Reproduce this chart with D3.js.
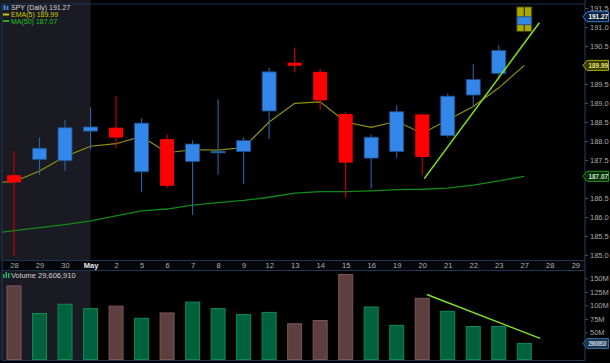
<!DOCTYPE html>
<html><head><meta charset="utf-8">
<script src="https://cdn.jsdelivr.net/npm/d3@7"></script>
<style>html,body{margin:0;padding:0;background:#000;overflow:hidden}</style>
</head><body><svg id="c" width="610" height="363"></svg>
<script>
// ---- data ----
const dates = ["28","29","30","May","2","5","6","7","8","9","12","13","14","15","16","19","20","21","22","23","27","28","29"];
const openP  = [187.10,187.51,187.48,188.26,188.35,187.19,188.05,187.46,187.71,187.72,188.79,190.06,189.82,188.71,187.55,187.72,188.70,188.14,189.21,189.78,191.06];
const highP  = [187.74,188.09,188.55,188.89,189.18,188.60,188.18,188.02,189.10,188.09,189.93,190.46,189.90,188.76,188.17,188.94,188.72,189.25,190.02,190.52,191.53];
const lowP   = [184.98,187.11,187.21,187.77,187.81,186.65,186.76,186.05,187.11,186.87,188.05,189.80,188.82,186.51,186.75,187.56,187.10,188.09,188.91,189.62,190.88];
const closeP = [186.91,187.81,188.35,188.37,188.09,188.47,186.82,187.92,187.73,188.01,189.82,189.98,189.07,187.43,188.10,188.77,187.58,189.18,189.62,190.38,191.27];
const volumeM = [136,85,102,94,98.5,76,86,106,94,83,87,66,72,157,97,63,113,89,61,61,29.6];
const emaLead = 186.90; // prior session (off-screen)
const ema5 = [186.93,187.21,187.59,187.86,187.93,188.12,187.69,187.77,187.76,187.83,188.50,188.99,189.03,188.50,188.36,188.52,188.20,188.55,188.91,189.40,189.99];
const maLead = 185.56;
const ma50 = [185.64,185.72,185.80,185.90,186.03,186.16,186.21,186.31,186.38,186.44,186.52,186.63,186.67,186.67,186.69,186.72,186.73,186.76,186.84,186.95,187.07];
// 190.0, 187.0 and 25M sit under the value tags, so they are not shown
const priceTicks = [185,185.5,186,186.5,187.5,188,188.5,189,189.5,190.5,191,191.5];
const volTicks = [50,75,100,125,150];
const priceTrend = [[16.08,187.01],[20.59,191.11]];
const volTrend = [[16.18,120],[20.62,39]];
const lastClose = 191.27, lastEma = 189.99, lastMa = 187.07, lastVolM = 29.6, lastVol = "29606910";

// ---- layout ----
const W=610;
const L=2,R=585,T=4,MB=260.5,DB=270.5,VB=360.5;
const svg=d3.select("#c");
const FONT="'Liberation Sans', Arial, sans-serif";
const x=d3.scaleLinear().domain([0,22]).range([14,575.3]);
const y=d3.scaleLinear().domain([185,191.5]).range([255,8]);
const yv=d3.scaleLinear().domain([0,150]).range([359.5,278.3]);
const frame="#1d3452";

svg.append("rect").attr("width",W).attr("height",363).attr("fill","#000");
svg.append("rect").attr("x",0).attr("y",0).attr("width",x(3)).attr("height",VB).attr("fill","#1a1b22");
svg.append("rect").attr("x",0).attr("y",MB).attr("width",R).attr("height",DB-MB).attr("fill","#03060a");

const defs=svg.append("defs");
defs.append("clipPath").attr("id","cp").append("rect").attr("x",L).attr("y",T).attr("width",R-L).attr("height",MB-T);
defs.append("clipPath").attr("id","cv").append("rect").attr("x",L).attr("y",DB).attr("width",R-L).attr("height",VB-DB);

const main=svg.append("g").attr("clip-path","url(#cp)");
const idx=d3.range(openP.length);

const line=d3.line().x(d=>x(d[0])).y(d=>y(d[1]));
main.append("path").datum([[-1,maLead]].concat(ma50.map((v,i)=>[i,v])))
  .attr("d",line).attr("fill","none").attr("stroke","#0f8a18").attr("stroke-width",1.3);
main.append("path").datum([[-1,emaLead]].concat(ema5.map((v,i)=>[i,v])))
  .attr("d",line).attr("fill","none").attr("stroke","#949410").attr("stroke-width",1.1);

const bw=14;
const last=openP.length-1;
main.append("rect").attr("x",x(last)-bw/2-0.5).attr("y",y(highP[last]))
  .attr("width",bw+1).attr("height",y(lowP[last])-y(highP[last]))
  .attr("fill","#a9a800").attr("stroke","#3a3a00").attr("stroke-width",1);
idx.forEach(i=>{
  const up=closeP[i]>=openP[i];
  const wc = i===last ? "#1a2a10" : (up?"#2a64a8":"#d00000");
  main.append("line").attr("x1",x(i)).attr("x2",x(i)).attr("y1",y(highP[i])).attr("y2",y(lowP[i]))
    .attr("stroke",wc).attr("stroke-width",1.1);
  const top=y(Math.max(openP[i],closeP[i])), bot=y(Math.min(openP[i],closeP[i]));
  main.append("rect").attr("x",x(i)-bw/2).attr("y",top).attr("width",bw).attr("height",Math.max(1.6,bot-top))
    .attr("fill",up?"#3387e9":"#ff0000").attr("stroke",up?"#1f4d86":"none").attr("stroke-width",0.8);
});

main.append("line").attr("x1",x(priceTrend[0][0])).attr("y1",y(priceTrend[0][1]))
  .attr("x2",x(priceTrend[1][0])).attr("y2",y(priceTrend[1][1]))
  .attr("stroke","#7fe01c").attr("stroke-width",1.6);

const vol=svg.append("g").attr("clip-path","url(#cv)");
idx.forEach(i=>{
  const up=closeP[i]>=openP[i];
  vol.append("rect").attr("x",x(i)-bw/2).attr("y",yv(volumeM[i])).attr("width",bw).attr("height",yv(0)-yv(volumeM[i]))
    .attr("fill",up?"#00613f":"#5e3f40").attr("stroke",up?"#0a8a5a":"#7a5656").attr("stroke-width",1);
});
vol.append("line").attr("x1",x(volTrend[0][0])).attr("y1",yv(volTrend[0][1]))
  .attr("x2",x(volTrend[1][0])).attr("y2",yv(volTrend[1][1]))
  .attr("stroke","#7fe01c").attr("stroke-width",1.5);

[[L,T,R,T],[L,MB,R,MB],[L,DB,R,DB],[L,VB,R,VB],[L,T,L,VB],[R,0,R,VB]].forEach(s=>{
  svg.append("line").attr("x1",s[0]).attr("y1",s[1]).attr("x2",s[2]).attr("y2",s[3])
    .attr("stroke",frame).attr("stroke-width",1.2);
});

const ay=d3.axisRight(y).tickValues(priceTicks).tickFormat(d3.format(".1f")).tickSize(3).tickPadding(2);
const gy=svg.append("g").attr("transform",`translate(${R},0)`).call(ay);
gy.select(".domain").remove();
gy.selectAll("line").attr("stroke","#3a5070");
gy.selectAll("text").attr("fill","#a9a9a9").attr("font-family",FONT).attr("font-size","7.5px");

const av=d3.axisRight(yv).tickValues(volTicks).tickFormat(d=>d+"M").tickSize(3).tickPadding(2);
const gv=svg.append("g").attr("transform",`translate(${R},0)`).call(av);
gv.select(".domain").remove();
gv.selectAll("line").attr("stroke","#3a5070");
gv.selectAll("text").attr("fill","#a9a9a9").attr("font-family",FONT).attr("font-size","7.5px");

const ax=d3.axisBottom(x).tickValues(d3.range(dates.length)).tickFormat(i=>dates[i]).tickSize(0).tickPadding(2);
const gx=svg.append("g").attr("transform",`translate(0,${MB+0.5})`).call(ax);
gx.select(".domain").remove();
gx.selectAll("text").attr("fill",(d)=>dates[d]==="May"?"#e8e8e8":"#b0b0b0")
  .attr("font-weight",d=>dates[d]==="May"?"bold":"normal")
  .attr("font-family",FONT).attr("font-size","7.5px");

function tag(text,stroke,fill,tc,yc,len,fs){
  svg.append("path").attr("d",`M${R-2},${yc} L${R+2},${yc-5} L${W-1.5},${yc-5} L${W-1.5},${yc+5} L${R+2},${yc+5} Z`)
    .attr("fill",fill).attr("stroke",stroke).attr("stroke-width",1);
  svg.append("text").attr("x",R+3.5).attr("y",yc+2.5).text(text)
    .attr("textLength",len).attr("lengthAdjust","spacingAndGlyphs")
    .attr("fill",tc).attr("font-family",FONT).attr("font-size",fs+"px").attr("font-weight","bold");
}
tag(lastClose.toFixed(2),"#3a7bd0","#0b1d36","#ffffff",y(lastClose),19.5,7.5);
tag(lastEma.toFixed(2),"#a8a800","#3c3c00","#e6e680",y(lastEma),19.5,7.5);
tag(lastMa.toFixed(2),"#1e9a1e","#0a2a0a","#bff0bf",y(lastMa),19.5,7.5);
tag(lastVol,"#3a6a9a","#1a3450","#dde6f0",yv(lastVolM),18,6.5);

const lg=svg.append("g").attr("font-family",FONT).attr("font-size","7px");
lg.append("rect").attr("x",3.5).attr("y",5).attr("width",2).attr("height",5).attr("fill","#3a8ae0");
lg.append("rect").attr("x",6.5).attr("y",6).attr("width",2).attr("height",4).attr("fill","#3a8ae0");
lg.append("text").attr("x",11).attr("y",10).text("SPY (Daily) 191.27").attr("fill","#d4d4d4");
lg.append("rect").attr("x",3).attr("y",13.5).attr("width",6).attr("height",2).attr("fill","#c8c800");
lg.append("text").attr("x",11).attr("y",17).text("EMA(5) 189.99").attr("fill","#c9c900");
lg.append("rect").attr("x",3).attr("y",20).attr("width",6).attr("height",2).attr("fill","#20b020");
lg.append("text").attr("x",11).attr("y",23.5).text("MA(50) 187.07").attr("fill","#22c022");

const vl=svg.append("g").attr("font-family",FONT).attr("font-size","7.5px");
vl.append("rect").attr("x",3).attr("y",274).attr("width",1.5).attr("height",4).attr("fill","#20b060");
vl.append("rect").attr("x",5.5).attr("y",272).attr("width",1.5).attr("height",6).attr("fill","#20b060");
vl.append("rect").attr("x",8).attr("y",273).attr("width",1.5).attr("height",5).attr("fill","#20b060");
vl.append("text").attr("x",11).attr("y",278).text("Volume 29,606,910").attr("fill","#d0d0d0");
</script></body></html>
